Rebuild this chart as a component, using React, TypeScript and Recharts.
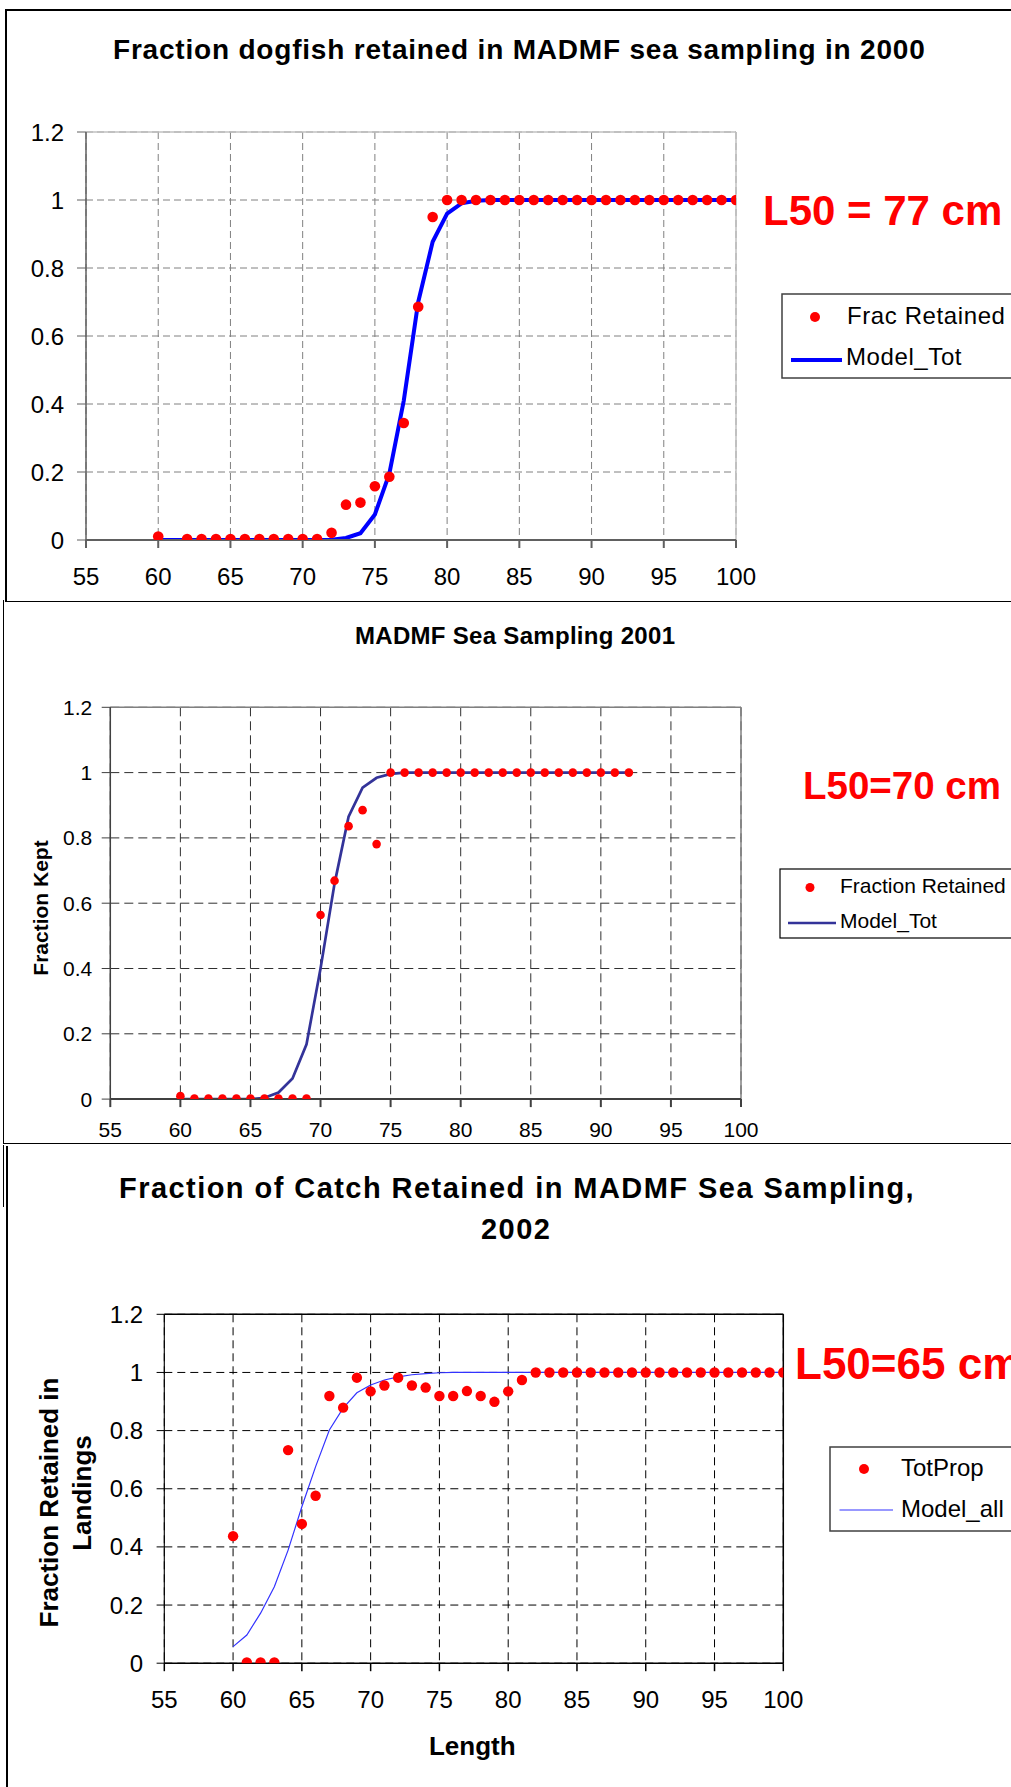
import React from 'react';
import { ComposedChart, Line, Scatter, XAxis, YAxis, CartesianGrid, ReferenceLine } from 'recharts';

const FONT = '"Liberation Sans", Arial, Helvetica, sans-serif';

// ---------- shared axis ticks ----------
const xTicks = [55, 60, 65, 70, 75, 80, 85, 90, 95, 100];
const yTicks = [0, 0.2, 0.4, 0.6, 0.8, 1, 1.2];

// ---------- 2000 ----------
const obsLen2000 = [60, 62, 63, 64, 65, 66, 67, 68, 69, 70, 71, 72, 73, 74, 75, 76, 77, 78, 79, 80, 81, 82, 83, 84, 85, 86, 87, 88, 89, 90, 91, 92, 93, 94, 95, 96, 97, 98, 99, 100];
const fracRetained2000 = [0.01, 0.003, 0.003, 0.003, 0.003, 0.003, 0.003, 0.003, 0.003, 0.003, 0.003, 0.021, 0.104, 0.11, 0.158, 0.186, 0.344, 0.686, 0.95, 1, 1, 1, 1, 1, 1, 1, 1, 1, 1, 1, 1, 1, 1, 1, 1, 1, 1, 1, 1, 1];
const modelLen2000 = [60, 61, 62, 63, 64, 65, 66, 67, 68, 69, 70, 71, 72, 73, 74, 75, 76, 77, 78, 79, 80, 81, 82, 83, 84, 85, 86, 87, 88, 89, 90, 91, 92, 93, 94, 95, 96, 97, 98, 99, 100];
const modelTot2000 = [0, 0, 0, 0, 0, 0, 0, 0, 0, 0, 0, 0, 0.001, 0.006, 0.02, 0.075, 0.195, 0.41, 0.7, 0.877, 0.96, 0.99, 0.998, 1, 1, 1, 1, 1, 1, 1, 1, 1, 1, 1, 1, 1, 1, 1, 1, 1, 1];

// ---------- 2001 ----------
const obsLen2001 = [60, 61, 62, 63, 64, 65, 66, 67, 68, 69, 70, 71, 72, 73, 74, 75, 76, 77, 78, 79, 80, 81, 82, 83, 84, 85, 86, 87, 88, 89, 90, 91, 92];
const fracRetained2001 = [0.009, 0.002, 0.002, 0.002, 0.002, 0.002, 0.002, 0.002, 0.002, 0.002, 0.564, 0.669, 0.836, 0.885, 0.781, 1, 1, 1, 1, 1, 1, 1, 1, 1, 1, 1, 1, 1, 1, 1, 1, 1, 1];
const modelLen2001 = [60, 61, 62, 63, 64, 65, 66, 67, 68, 69, 70, 71, 72, 73, 74, 75, 76, 77, 78, 79, 80, 81, 82, 83, 84, 85, 86, 87, 88, 89, 90, 91, 92];
const modelTot2001 = [0, 0, 0, 0, 0, 0, 0.004, 0.02, 0.063, 0.168, 0.4, 0.66, 0.865, 0.954, 0.984, 0.996, 1, 1, 1, 1, 1, 1, 1, 1, 1, 1, 1, 1, 1, 1, 1, 1, 1];

// ---------- 2002 ----------
const obsLen2002 = [60, 61, 62, 63, 64, 65, 66, 67, 68, 69, 70, 71, 72, 73, 74, 75, 76, 77, 78, 79, 80, 81, 82, 83, 84, 85, 86, 87, 88, 89, 90, 91, 92, 93, 94, 95, 96, 97, 98, 99, 100];
const totProp2002 = [0.437, 0.003, 0.003, 0.003, 0.733, 0.479, 0.576, 0.919, 0.879, 0.982, 0.935, 0.955, 0.982, 0.955, 0.948, 0.919, 0.919, 0.936, 0.919, 0.899, 0.935, 0.974, 1, 1, 1, 1, 1, 1, 1, 1, 1, 1, 1, 1, 1, 1, 1, 1, 1, 1, 1];
const modelLen2002 = [60, 61, 62, 63, 64, 65, 66, 67, 68, 69, 70, 71, 72, 73, 74, 75, 76, 77, 78, 79, 80, 81, 82, 83, 84, 85, 86, 87, 88, 89, 90, 91, 92, 93, 94, 95, 96, 97, 98, 99, 100];
const modelAll2002 = [0.057, 0.097, 0.172, 0.263, 0.389, 0.538, 0.676, 0.802, 0.877, 0.93, 0.957, 0.974, 0.985, 0.992, 0.996, 0.999, 1, 1, 1, 1, 1, 1, 1, 1, 1, 1, 1, 1, 1, 1, 1, 1, 1, 1, 1, 1, 1, 1, 1, 1, 1];

const zip = (xs: number[], ys: number[]) => xs.map((x, i) => ({ x, y: ys[i] }));

type PanelProps = {
  top: number;
  height: number;
  plotLeft: number;
  plotRight: number;
  plotTop: number;
  plotBottom: number;
  xAxisHeight: number;
  fontSize: number;
  yTickSize: number;
  yTickMargin: number;
  xTickMargin: number;
  gridColor: string;
  gridDash: string;
  borderColor: string;
  axisColor: string;
  axisWidth: number;
  obs: { x: number; y: number }[];
  model: { x: number; y: number }[];
  dotR: number;
  lineColor: string;
  lineWidth: number;
};

function Panel(p: PanelProps) {
  const width = 1011;
  const mTop = p.plotTop - p.top;
  const mBottom = p.height - (p.plotBottom - p.top) - p.xAxisHeight;
  const dot = (props: any) => (
    <circle cx={props.cx} cy={props.cy} r={p.dotR} fill="#ff0000" />
  );
  return (
    <div style={{ position: 'absolute', left: 0, top: p.top }}>
      <ComposedChart
        width={width}
        height={p.height}
        margin={{ top: mTop, right: width - p.plotRight, bottom: mBottom, left: 0 }}
      >
        <CartesianGrid stroke={p.gridColor} strokeDasharray={p.gridDash} strokeWidth={1} />
        <XAxis
          type="number"
          dataKey="x"
          domain={[55, 100]}
          ticks={xTicks}
          interval={0}
          allowDataOverflow
          height={p.xAxisHeight}
          tickSize={8}
          tickMargin={p.xTickMargin}
          axisLine={{ stroke: p.axisColor, strokeWidth: p.axisWidth }}
          tickLine={{ stroke: p.axisColor, strokeWidth: p.axisWidth }}
          tick={{ fill: '#000', fontSize: p.fontSize, fontFamily: FONT }}
        />
        <YAxis
          type="number"
          dataKey="y"
          domain={[0, 1.2]}
          ticks={yTicks}
          interval={0}
          allowDataOverflow
          width={p.plotLeft}
          tickSize={p.yTickSize}
          tickMargin={p.yTickMargin}
          axisLine={{ stroke: p.axisColor, strokeWidth: p.axisWidth * 0.75 }}
          tickLine={{ stroke: p.axisColor, strokeWidth: 1 }}
          tick={{ fill: '#000', fontSize: p.fontSize, fontFamily: FONT }}
        />
        <ReferenceLine y={1.2} stroke={p.borderColor} strokeWidth={1.5} />
        <ReferenceLine x={100} stroke={p.borderColor} strokeWidth={1.5} />
        <Line
          data={p.model}
          dataKey="y"
          type="linear"
          stroke={p.lineColor}
          strokeWidth={p.lineWidth}
          dot={false}
          activeDot={false}
          isAnimationActive={false}
        />
        <Scatter data={p.obs} dataKey="y" shape={dot} isAnimationActive={false} />
      </ComposedChart>
    </div>
  );
}

function Overlay() {
  const bold = { fontFamily: FONT, fontWeight: 700 } as const;
  const reg = { fontFamily: FONT, fontWeight: 400 } as const;
  return (
    <svg
      width={1011}
      height={1787}
      style={{ position: 'absolute', left: 0, top: 0, pointerEvents: 'none' }}
    >
      {/* Panel 1 */}
      <text x={113} y={59} fontSize={28} style={{ ...bold, letterSpacing: '0.8px' }} fill="#000">
        Fraction dogfish retained in MADMF sea sampling in 2000
      </text>
      <text x={763} y={225} fontSize={42} style={bold} fill="#ff0000">
        L50 = 77 cm
      </text>
      <rect x={782} y={294} width={300} height={84} fill="#fff" stroke="#404040" strokeWidth={1.5} />
      <circle cx={815} cy={317} r={5} fill="#ff0000" />
      <text x={847} y={323.5} fontSize={24} style={{ ...reg, letterSpacing: '0.6px' }} fill="#000">
        Frac Retained
      </text>
      <line x1={791} y1={360} x2={842} y2={360} stroke="#0000ff" strokeWidth={4} />
      <text x={846} y={365} fontSize={24} style={{ ...reg, letterSpacing: '0.6px' }} fill="#000">
        Model_Tot
      </text>

      {/* Panel 2 */}
      <text x={355} y={644} fontSize={24} style={{ ...bold, letterSpacing: '0.3px' }} fill="#000">
        MADMF Sea Sampling 2001
      </text>
      <text x={803} y={799} fontSize={38.5} style={bold} fill="#ff0000">
        L50=70 cm
      </text>
      <text
        transform="translate(48.3,908) rotate(-90)"
        textAnchor="middle"
        fontSize={21}
        style={bold}
        fill="#000"
      >
        Fraction Kept
      </text>
      <rect x={780} y={869} width={300} height={69} fill="#fff" stroke="#000" strokeWidth={1.2} />
      <circle cx={810} cy={887.5} r={4.5} fill="#ff0000" />
      <text x={840} y={893} fontSize={21} style={reg} fill="#000">
        Fraction Retained
      </text>
      <line x1={788} y1={923} x2={836} y2={923} stroke="#333399" strokeWidth={2.7} />
      <text x={840} y={928} fontSize={21} style={reg} fill="#000">
        Model_Tot
      </text>

      {/* Panel 3 */}
      <text x={119} y={1198} fontSize={29} style={{ ...bold, letterSpacing: '1.45px' }} fill="#000">
        Fraction of Catch Retained in MADMF Sea Sampling,
      </text>
      <text x={481} y={1239} fontSize={29} style={{ ...bold, letterSpacing: '1.45px' }} fill="#000">
        2002
      </text>
      <text x={795} y={1379} fontSize={44} style={bold} fill="#ff0000">
        L50=65 cm
      </text>
      <text
        transform="translate(58.3,1502.5) rotate(-90)"
        textAnchor="middle"
        fontSize={26}
        style={bold}
        fill="#000"
      >
        Fraction Retained in
      </text>
      <text
        transform="translate(90.7,1493) rotate(-90)"
        textAnchor="middle"
        fontSize={26}
        style={bold}
        fill="#000"
      >
        Landings
      </text>
      <text x={472.3} y={1755} textAnchor="middle" fontSize={26} style={bold} fill="#000">
        Length
      </text>
      <rect x={830} y={1447} width={300} height={84} fill="#fff" stroke="#404040" strokeWidth={1.5} />
      <circle cx={864} cy={1469} r={5} fill="#ff0000" />
      <text x={901} y={1476} fontSize={24} style={reg} fill="#000">
        TotProp
      </text>
      <line x1={839.5} y1={1510} x2={893} y2={1510} stroke="#3333ff" strokeWidth={1.2} />
      <text x={901} y={1517} fontSize={24} style={reg} fill="#000">
        Model_all
      </text>
    </svg>
  );
}

export default function App() {
  return (
    <div
      style={{
        position: 'absolute',
        left: 0,
        top: 0,
        width: 1011,
        height: 1787,
        overflow: 'hidden',
        background: '#fff',
      }}
    >
      {/* panel frames */}
      <div style={{ position: 'absolute', left: 5, top: 9, width: 1100, height: 590, border: '2px solid #000', borderBottomWidth: 1 }} />
      <div style={{ position: 'absolute', left: 3, top: 600, width: 1100, height: 543, borderLeft: '1.5px solid #000', borderBottom: '1.5px solid #000' }} />
      <div style={{ position: 'absolute', left: 3, top: 1145, width: 0, height: 62, borderLeft: '1.5px solid #000' }} />
      <div style={{ position: 'absolute', left: 6, top: 1146, width: 1100, height: 700, borderLeft: '2px solid #000' }} />

      <Panel
        top={0}
        height={610}
        plotLeft={86}
        plotRight={736}
        plotTop={132}
        plotBottom={540}
        xAxisHeight={60}
        fontSize={24}
        yTickSize={9}
        yTickMargin={13}
        xTickMargin={20}
        gridColor="#808080"
        gridDash="7 4"
        borderColor="#c0c0c0"
        axisColor="#606060"
        axisWidth={2}
        obs={zip(obsLen2000, fracRetained2000)}
        model={zip(modelLen2000, modelTot2000)}
        dotR={5.3}
        lineColor="#0000ff"
        lineWidth={4}
      />
      <Panel
        top={600}
        height={545}
        plotLeft={110.3}
        plotRight={741}
        plotTop={707.3}
        plotBottom={1099.1}
        xAxisHeight={44}
        fontSize={21}
        yTickSize={8.6}
        yTickMargin={9.4}
        xTickMargin={14.7}
        gridColor="#303030"
        gridDash="9 5"
        borderColor="#808080"
        axisColor="#404040"
        axisWidth={2}
        obs={zip(obsLen2001, fracRetained2001)}
        model={zip(modelLen2001, modelTot2001)}
        dotR={4.3}
        lineColor="#333399"
        lineWidth={2.7}
      />
      <Panel
        top={1146}
        height={641}
        plotLeft={164.3}
        plotRight={783.3}
        plotTop={1314.3}
        plotBottom={1663.2}
        xAxisHeight={60}
        fontSize={24}
        yTickSize={7.7}
        yTickMargin={13.4}
        xTickMargin={20.2}
        gridColor="#000000"
        gridDash="8 5"
        borderColor="#000000"
        axisColor="#000000"
        axisWidth={1.5}
        obs={zip(obsLen2002, totProp2002)}
        model={zip(modelLen2002, modelAll2002)}
        dotR={5.2}
        lineColor="#3333ff"
        lineWidth={1.2}
      />
      <Overlay />
    </div>
  );
}
